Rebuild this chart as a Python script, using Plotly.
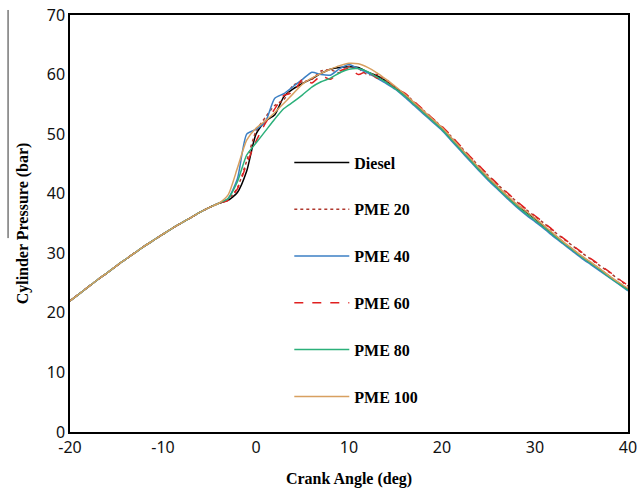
import plotly.graph_objects as go

# Crank angle (deg)
crank_angle = list(range(-20, 41))

# Shared compression stroke (-20 .. -4 deg)
compression = [22.0, 23.2, 24.4, 25.6, 26.7, 27.9, 29.0, 30.1, 31.2, 32.2,
               33.2, 34.2, 35.1, 36.0, 36.9, 37.7, 38.4]

# Combustion / expansion (-3 .. 40 deg)
diesel = [38.9, 40.2, 43.8, 50.0, 52.2, 53.2, 56.3, 57.6, 58.5, 59.3, 60.2, 60.9, 61.2, 61.3, 61.2,
          60.4, 59.8, 58.9, 57.8, 56.6, 55.2, 53.8, 52.4, 51.0, 49.3, 47.6, 45.9, 44.2, 42.6, 41.1,
          39.6, 38.2, 37.0, 35.8, 34.5, 33.2, 31.9, 30.7, 29.5, 28.4, 27.3, 26.1, 25.0, 24.0]
pme20 = [39.0, 41.0, 45.5, 50.5, 52.8, 54.8, 55.8, 58.2, 58.8, 59.2, 60.6, 60.8, 60.3, 61.4, 61.0,
         60.0, 60.0, 59.0, 57.8, 56.8, 55.4, 54.0, 52.6, 51.2, 49.6, 47.9, 46.2, 44.6, 43.0, 41.5,
         40.1, 38.7, 37.4, 36.2, 35.0, 33.7, 32.5, 31.3, 30.1, 29.0, 27.9, 26.8, 25.6, 24.5]
pme40 = [39.2, 42.5, 50.0, 50.8, 52.0, 56.0, 56.8, 58.0, 59.2, 60.4, 60.0, 59.9, 61.0, 61.7, 61.0,
         60.3, 59.4, 58.5, 57.5, 56.2, 54.8, 53.4, 52.0, 50.6, 48.9, 47.2, 45.5, 43.8, 42.2, 40.7,
         39.2, 37.8, 36.5, 35.3, 34.1, 32.8, 31.6, 30.4, 29.2, 28.1, 27.0, 25.9, 24.8, 23.7]
pme60 = [38.9, 40.8, 45.0, 48.8, 51.8, 54.2, 56.5, 57.0, 59.2, 58.6, 59.8, 59.2, 60.6, 61.0, 60.0,
         60.6, 59.4, 59.2, 57.6, 56.9, 55.5, 54.1, 52.6, 51.3, 49.7, 48.0, 46.3, 44.7, 43.1, 41.6,
         40.2, 38.8, 37.5, 36.3, 35.1, 33.8, 32.6, 31.4, 30.2, 29.1, 28.0, 26.9, 25.7, 24.6]
pme80 = [39.2, 42.0, 46.5, 48.5, 50.5, 52.5, 54.3, 55.4, 56.6, 57.9, 58.8, 59.4, 60.3, 60.9, 61.0,
         60.5, 59.6, 58.7, 57.6, 56.4, 55.0, 53.6, 52.2, 50.8, 49.1, 47.4, 45.7, 44.0, 42.4, 40.9,
         39.4, 38.0, 36.7, 35.5, 34.3, 33.0, 31.8, 30.6, 29.4, 28.3, 27.2, 26.0, 24.9, 23.8]
pme100 = [39.8, 44.3, 49.0, 51.0, 52.2, 53.6, 55.2, 56.8, 58.4, 59.4, 60.2, 60.9, 61.5, 61.9, 61.8,
          61.2, 60.3, 59.2, 58.0, 56.7, 55.3, 53.9, 52.5, 51.1, 49.4, 47.7, 46.0, 44.3, 42.7, 41.2,
          39.7, 38.3, 37.1, 35.9, 34.6, 33.3, 32.0, 30.8, 29.6, 28.5, 27.4, 26.2, 25.1, 24.1]

series_names = ["Diesel", "PME 20", "PME 40", "PME 60", "PME 80", "PME 100"]
series_values = [diesel, pme20, pme40, pme60, pme80, pme100]
series_colors = ["#000000", "#b0392f", "#3b7fc4", "#e02020", "#2bb07a", "#d8a060"]
series_dash = ["solid", "dot", "solid", "dash", "solid", "solid"]

x_ticks = [-20, -10, 0, 10, 20, 30, 40]
x_tick_labels = ["-20", "-10", "0", "10", "20", "30", "40"]
y_ticks = [0, 10, 20, 30, 40, 50, 60, 70]

fig = go.Figure()
for name, vals, col, dash in zip(series_names, series_values, series_colors, series_dash):
    fig.add_trace(go.Scatter(
        x=crank_angle, y=compression + vals, mode="lines", name="<b>" + name + "</b>",
        legendgroup=name,
        line=dict(color=col, width=1.5, dash=dash, shape="spline", smoothing=0.6),
    ))

tick_font = dict(family="Noto Sans, Open Sans, sans-serif", size=16, color="#111111")
title_font = dict(family="Liberation Serif, Times New Roman, serif", size=16, color="#000000")

fig.update_layout(
    width=638, height=494,
    margin=dict(l=70, r=10, t=15, b=62),
    paper_bgcolor="white", plot_bgcolor="white",
    showlegend=True,
    legend=dict(
        x=0.393, y=0.687, xanchor="left", yanchor="top",
        font=dict(family="Liberation Serif, Times New Roman, serif", size=16, color="#000000"),
        bgcolor="rgba(0,0,0,0)", borderwidth=0,
        tracegroupgap=23, itemwidth=55,
    ),
    xaxis=dict(
        range=[-20, 40], tickvals=x_ticks, ticktext=x_tick_labels, ticks="",
        showgrid=False, zeroline=False, automargin=False,
        showline=True, linecolor="#000000", linewidth=1.5, mirror=True,
        tickfont=tick_font, ticklabeloverflow="allow",
        title=dict(text="<b>Crank Angle (deg)</b>", font=title_font, standoff=16),
    ),
    yaxis=dict(
        range=[0, 70], tickvals=y_ticks, ticks="", showgrid=False, zeroline=False,
        automargin=False,
        showline=True, linecolor="#000000", linewidth=1.5, mirror=True,
        tickfont=tick_font, ticklabeloverflow="allow",
        title=dict(text="<b>Cylinder Pressure (bar)</b>", font=title_font, standoff=14),
    ),
    shapes=[dict(type="line", xref="paper", yref="paper",
                 x0=-0.111, x1=-0.111, y0=1.012, y1=0.465,
                 line=dict(color="#333333", width=1))],
)

fig.write_html(
    "out.html",
    config={"displayModeBar": False},
    post_script="document.body.style.margin='0';document.body.style.overflow='hidden';",
)
